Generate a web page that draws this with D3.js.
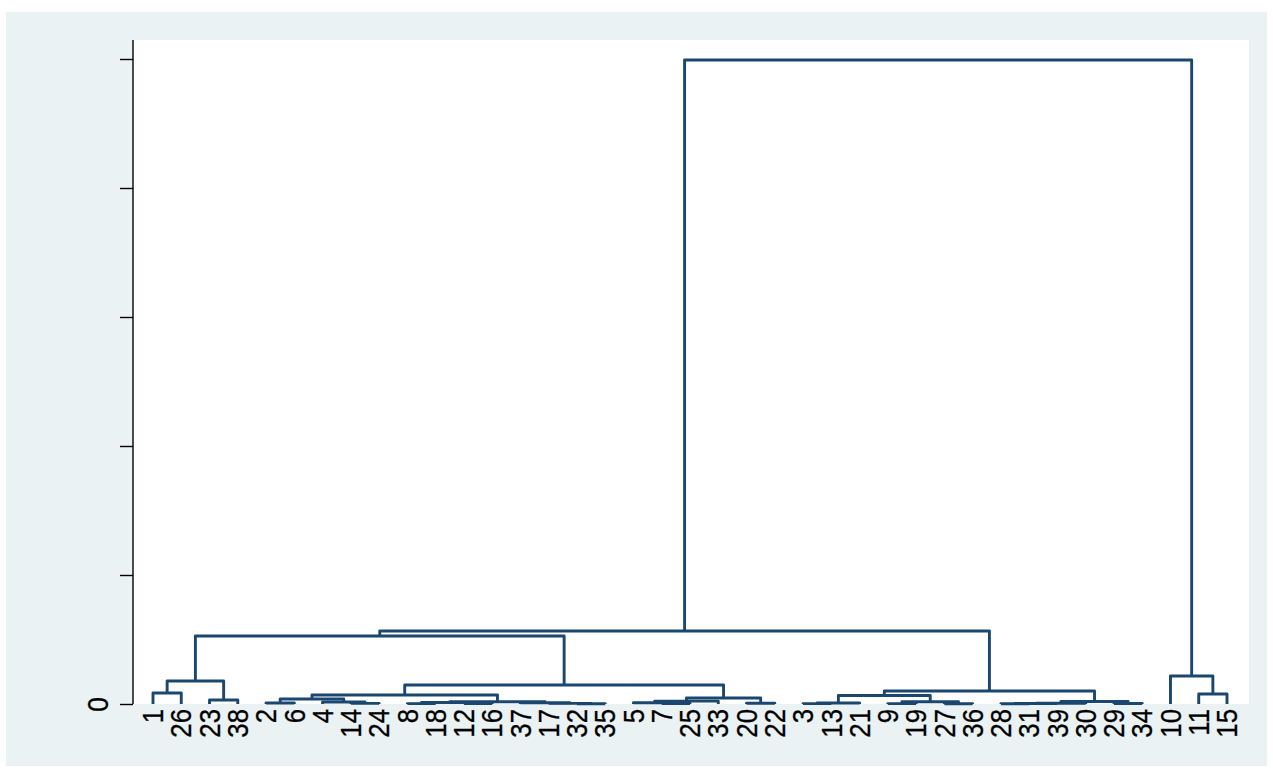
<!DOCTYPE html>
<html>
<head>
<meta charset="utf-8">
<script src="https://cdn.jsdelivr.net/npm/d3@7/dist/d3.min.js"></script>
<style>
  html, body { margin: 0; padding: 0; background: #ffffff; }
  svg { display: block; }
</style>
</head>
<body>
<svg id="chart" width="1273" height="778"></svg>
<script>
// ---- data ----
const leafOrder = [1,26,23,38,2,6,4,14,24,8,18,12,16,37,17,32,35,5,7,25,33,20,22,3,13,21,9,19,27,36,28,31,39,30,29,34,10,11,15];
// merges: [id, left child, right child, height]  (leaves are "L<n>")
const merges = [
  ["c1","L1","L26",0.085],
  ["c2","L23","L38",0.031],
  ["c3","c1","c2",0.178],
  ["c4","L2","L6",0.008],
  ["c5","L14","L24",0.005],
  ["c6","L4","c5",0.015],
  ["c7","c4","c6",0.039],
  ["c8","L8","L18",0.003],
  ["c9","L12","L16",0.004],
  ["c10","c8","c9",0.012],
  ["c11","L32","L35",0.002],
  ["c12","L17","c11",0.005],
  ["c13","L37","c12",0.010],
  ["c14","c10","c13",0.018],
  ["c15","c7","c14",0.070],
  ["c16","L7","L25",0.004],
  ["c17","L5","c16",0.010],
  ["c18","c17","L33",0.022],
  ["c19","L20","L22",0.006],
  ["c20","c18","c19",0.047],
  ["c21","c15","c20",0.147],
  ["c22","c3","c21",0.527],
  ["c23","L3","L13",0.003],
  ["c24","c23","L21",0.008],
  ["c25","L9","L19",0.003],
  ["c26","L27","L36",0.002],
  ["c27","c25","c26",0.018],
  ["c28","c24","c27",0.066],
  ["c29","L28","L31",0.002],
  ["c30","c29","L39",0.004],
  ["c31","c30","L30",0.006],
  ["c32","L29","L34",0.004],
  ["c33","c31","c32",0.019],
  ["c34","c28","c33",0.101],
  ["c35","c22","c34",0.566],
  ["c36","L11","L15",0.078],
  ["c37","L10","c36",0.217],
  ["c38","c35","c37",4.992]
];
const yTicks = [0,1,2,3,4,5];
const yTickLabels = ["0","","","","",""];

// ---- layout ----
const outer = {x:6, y:12, w:1261, h:754};
const plot = {x0:133, x1:1249, y0:40, y1:704};
const lineColor = "#1a476f";

const svg = d3.select("#chart");
svg.append("rect").attr("x",outer.x).attr("y",outer.y).attr("width",outer.w).attr("height",outer.h).attr("fill","#eaf2f3");
svg.append("rect").attr("x",plot.x0).attr("y",plot.y0).attr("width",plot.x1-plot.x0).attr("height",plot.y1-plot.y0).attr("fill","#ffffff");

const x = d3.scalePoint().domain(leafOrder.map(d=>"L"+d)).range([153,1227]);
const y = d3.scaleLinear().domain([0,5]).range([704,59]);

const pos = {};
leafOrder.forEach(d => { pos["L"+d] = {x: x("L"+d), h: 0}; });
merges.forEach(([id,a,b,h]) => { pos[id] = {x:(pos[a].x+pos[b].x)/2, h:h}; });

const g = svg.append("g");
g.selectAll("path.link").data(merges).join("path")
  .attr("class","link")
  .attr("d", ([id,a,b,h]) => {
    const A = pos[a], B = pos[b];
    return `M${A.x},${y(A.h)}V${y(h)}H${B.x}V${y(B.h)}`;
  })
  .attr("fill","none")
  .attr("stroke",lineColor)
  .attr("stroke-width",2.9)
  .attr("stroke-linejoin","round");

// y axis
const yAxis = d3.axisLeft(y).tickValues(yTicks).tickSize(13).tickPadding(12)
  .tickFormat((d,i)=>yTickLabels[i]);
const ya = svg.append("g").attr("transform",`translate(${plot.x0},0)`).call(yAxis);
ya.select(".domain").attr("d",`M0,${plot.y0}V${plot.y1}`).attr("stroke","#000").attr("stroke-width",1.4);
ya.selectAll(".tick line").attr("stroke","#000").attr("stroke-width",1.4);
ya.selectAll(".tick text")
  .attr("font-family","Liberation Sans, Arial, sans-serif")
  .attr("font-size",30)
  .attr("fill","#000")
  .attr("stroke","#000").attr("stroke-width",0.3)
  .attr("text-anchor","middle")
  .attr("dy",null)
  .attr("x",null)
  .attr("transform","translate(-36,0) rotate(-90) scale(0.88,1)")
  .attr("dominant-baseline","central");

// leaf labels
svg.append("g").selectAll("text.leaf").data(leafOrder).join("text")
  .attr("class","leaf")
  .attr("transform", d => `translate(${x("L"+d)},${plot.y1+5}) rotate(-90) scale(0.86,1)`)
  .attr("text-anchor","end")
  .attr("dominant-baseline","central")
  .attr("font-family","Liberation Sans, Arial, sans-serif")
  .attr("font-size",30)
  .attr("fill","#000")
  .attr("stroke","#000").attr("stroke-width",0.3)
  .text(d => d);
</script>
</body>
</html>
